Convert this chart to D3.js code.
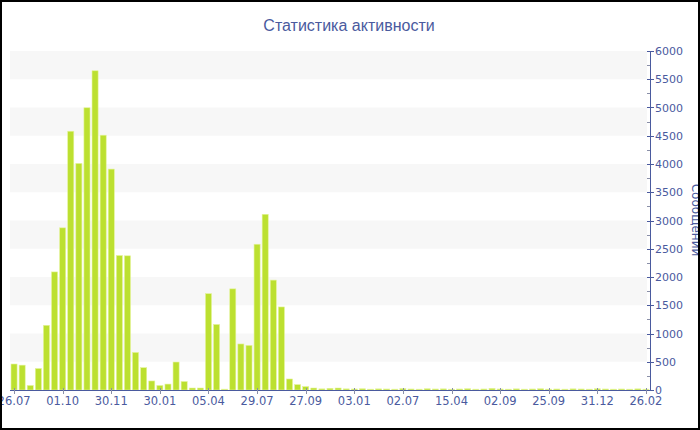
<!DOCTYPE html>
<html>
<head>
<meta charset="utf-8">
<script src="https://cdn.jsdelivr.net/npm/d3@7/dist/d3.min.js"></script>
<style>
  body { margin: 0; background: #fff; }
  svg { display: block; font-family: "DejaVu Sans", Verdana, sans-serif; }
</style>
</head>
<body>
<div id="chart"></div>
<script>
// weekly message counts, one bar per period
var values = [460, 440, 80, 380, 1145, 2090, 2870, 4580, 4010, 4995,
              5650, 4510, 3910, 2380, 2375, 665, 395, 160, 80, 105,
              495, 150, 35, 35, 1705, 1160, 15, 1790, 815, 790,
              2580, 3110, 1945, 1470, 195, 95, 60, 35, 20, 30,
              35, 20, 18, 22, 15, 20, 18, 15, 25, 18,
              15, 22, 18, 20, 15, 18, 22, 15, 18, 28,
              18, 15, 20, 15, 18, 22, 15, 18, 15, 20,
              18, 15, 22, 18, 15, 18, 15, 20, 15];
// labels shown every 6th bar
var tickLabels = ["26.07", "01.10", "30.11", "30.01", "05.04", "29.07", "27.09",
                  "03.01", "02.07", "15.04", "02.09", "25.09", "31.12", "26.02"];
var yTicks = [0, 500, 1000, 1500, 2000, 2500, 3000, 3500, 4000, 4500, 5000, 5500, 6000];

var W = 700, H = 430;
var pLeft = 10, pRight = 650, pTop = 51, pBottom = 390;
var blue = "#4a5a9e";

var svg = d3.select("#chart").append("svg")
    .attr("width", W).attr("height", H);

var idx = d3.range(values.length);
var x = d3.scaleBand().domain(idx).range([pLeft, pRight]).paddingInner(0.25).paddingOuter(0.125);
var y = d3.scaleLinear().domain([0, 6000]).range([pBottom, pTop]);

// alternating grid bands
var bands = d3.range(0, 6000, 1000);
svg.append("g").selectAll("rect")
    .data(bands)
  .enter().append("rect")
    .attr("x", pLeft)
    .attr("width", pRight - pLeft - 3)
    .attr("y", function(d){ return y(d + 1000); })
    .attr("height", function(d){ return y(d + 500) - y(d + 1000); })
    .attr("fill", "#f7f7f7");

// bars
svg.append("g").selectAll("rect")
    .data(values)
  .enter().append("rect")
    .attr("x", function(d, i){ return x(i); })
    .attr("width", x.bandwidth())
    .attr("y", function(d){ return y(d); })
    .attr("height", function(d){ return pBottom - y(d); })
    .attr("fill", "#bce030")
    .attr("stroke", "#e4f49a")
    .attr("stroke-width", 0.6);

// x axis
var tickIdx = tickLabels.map(function(d, i){ return i * 6; });
var cx = function(i){ return x(i) + x.bandwidth() / 2; };
var gx = svg.append("g");
gx.append("line")
    .attr("x1", pLeft).attr("x2", pRight)
    .attr("y1", pBottom + 0.5).attr("y2", pBottom + 0.5)
    .attr("stroke", blue);
gx.selectAll(".tk")
    .data(tickIdx)
  .enter().append("line")
    .attr("x1", function(d){ return Math.round(cx(d)) + 0.5; })
    .attr("x2", function(d){ return Math.round(cx(d)) + 0.5; })
    .attr("y1", pBottom - 2).attr("y2", pBottom + 4)
    .attr("stroke", "#8a8fa8");
gx.selectAll("text")
    .data(tickIdx)
  .enter().append("text")
    .attr("x", function(d){ return cx(d); })
    .attr("y", pBottom + 15)
    .attr("text-anchor", "middle")
    .attr("font-size", 11.5)
    .attr("fill", blue)
    .text(function(d, i){ return tickLabels[i]; });

// right y axis
var gy = svg.append("g");
gy.append("line")
    .attr("x1", pRight + 0.5).attr("x2", pRight + 0.5)
    .attr("y1", pTop).attr("y2", pBottom + 1)
    .attr("stroke", blue);
gy.selectAll(".minor")
    .data(d3.range(250, 6000, 500))
  .enter().append("line")
    .attr("x1", pRight - 3).attr("x2", pRight)
    .attr("y1", function(d){ return Math.round(y(d)) + 0.5; })
    .attr("y2", function(d){ return Math.round(y(d)) + 0.5; })
    .attr("stroke", "#8a8fa8");
gy.selectAll(".major")
    .data(yTicks)
  .enter().append("line")
    .attr("x1", pRight - 3).attr("x2", pRight + 4)
    .attr("y1", function(d){ return Math.round(y(d)) + 0.5; })
    .attr("y2", function(d){ return Math.round(y(d)) + 0.5; })
    .attr("stroke", blue);
gy.selectAll("text")
    .data(yTicks)
  .enter().append("text")
    .attr("x", pRight + 5)
    .attr("y", function(d){ return y(d) + 4; })
    .attr("font-size", 11)
    .attr("fill", blue)
    .text(function(d){ return d; });

svg.append("text")
    .attr("transform", "translate(692,220) rotate(90)")
    .attr("text-anchor", "middle")
    .attr("font-size", 12)
    .attr("fill", blue)
    .text("Сообщений");

// title
svg.append("text")
    .attr("x", 349).attr("y", 31)
    .attr("text-anchor", "middle")
    .attr("font-family", "'Liberation Sans', Arial, sans-serif")
    .attr("font-size", 16)
    .attr("fill", blue)
    .text("Статистика активности");

// outer border
svg.append("rect")
    .attr("x", 1).attr("y", 1)
    .attr("width", W - 2).attr("height", H - 2)
    .attr("fill", "none")
    .attr("stroke", "#000")
    .attr("stroke-width", 2);
</script>
</body>
</html>
